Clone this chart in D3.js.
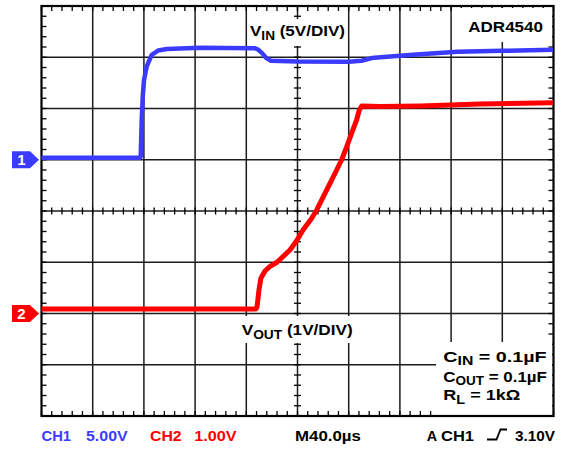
<!DOCTYPE html>
<html><head><meta charset="utf-8">
<script src="https://cdn.jsdelivr.net/npm/d3@7"></script>
<style>
body{margin:0;background:#fff}
svg{display:block}
text{font-family:"Liberation Sans",Arial,Helvetica,sans-serif;font-weight:bold}
</style>
</head><body>
<svg id="c" width="563" height="449"></svg>
<script>
// ---- data (time in µs, volts) ----
const ch1Time  = [0, 40, 76.9, 77.5, 78.3, 79.1, 80.1, 82.2, 86.1, 91.3, 97.8, 124, 166.8, 169.1, 172.3, 175.4, 179.3, 200, 240, 250, 258, 265, 290, 325, 360, 399.6];
const ch1Volts = [0.2, 0.2, 0.2, 0.3, 3.9, 6.2, 7.8, 9.1, 10.24, 10.66, 10.8, 10.93, 10.88, 10.75, 10.4, 9.95, 9.65, 9.58, 9.57, 9.66, 9.92, 10.0, 10.24, 10.54, 10.63, 10.73];
const ch2Time  = [0, 100, 167.6, 168.4, 169.9, 171.4, 174.6, 178.5, 184, 194.1, 199.6, 204.3, 211.1, 215, 220.2, 225.4, 230.6, 234.5, 238.4, 242.3, 246.2, 248.3, 250.2, 264.5, 295.7, 342.6, 399.6];
const ch2Volts = [0.09, 0.09, 0.09, 0.13, 0.46, 0.69, 0.83, 0.92, 1.0, 1.24, 1.43, 1.63, 1.86, 2.02, 2.28, 2.54, 2.8, 3.0, 3.25, 3.52, 3.78, 3.97, 4.05, 4.04, 4.05, 4.09, 4.11];
const timeTicks = d3.range(0, 401, 40);     // 40 µs / div
const divTicks  = d3.range(-4, 5, 1);       // vertical divisions
const ch1Range  = [-25, 15];                // 5 V/div, ground 1 div above centre
const ch2Range  = [-2, 6];                  // 1 V/div, ground 2 div below centre
const bottomTexts = ["CH1", "5.00V", "CH2", "1.00V", "M40.0µs", "A", "CH1", "3.10V"];
const noteTexts = [["C", "IN", " = 0.1µF"], ["C", "OUT", " = 0.1µF"], ["R", "L", " = 1kΩ"]];
const traceLabels = [["V", "IN", " (5V/DIV)"], ["V", "OUT", " (1V/DIV)"]];
const titleText = "ADR4540";

// ---- layout ----
const L = 41.5, R = 553.5, T = 6, B = 416;
const blue = "#3b3bff", red = "#ff0000";
const bottomLayout = [[41.5, 29.5, blue], [86, 41.7, blue], [150, 31.7, red], [194.3, 42.4, red],
  [295, 66, "#000"], [426.7, 10.5, "#000"], [441, 33, "#000"], [515, 40, "#000"]];
const noteLayout = [[443.3, 361.5, 103.4], [443.3, 381.5, 103.7], [443.3, 400, 77]];
const traceLayout = [[250, 36, 95], [241.7, 335, 111]];

const svg = d3.select("#c");
const x  = d3.scaleLinear([0, 400], [L, R]);
const yd = d3.scaleLinear([-4, 4], [B, T]);
const y1 = d3.scaleLinear(ch1Range, [B, T]);
const y2 = d3.scaleLinear(ch2Range, [B, T]);

// grid
const g = svg.append("g").attr("stroke", "#1c1c1c").attr("stroke-width", 1.5);
timeTicks.slice(1, -1).forEach(t => g.append("line").attr("x1", x(t)).attr("x2", x(t)).attr("y1", T).attr("y2", B));
divTicks.slice(1, -1).forEach(d => g.append("line").attr("x1", L).attr("x2", R).attr("y1", yd(d)).attr("y2", yd(d)));

// minor ticks
const mt = svg.append("g").attr("stroke", "#000").attr("stroke-width", 1.3);
d3.range(0, 400.01, 8).forEach(t => {
  const xx = x(t);
  mt.append("line").attr("x1", xx).attr("x2", xx).attr("y1", T).attr("y2", T + 5);
  mt.append("line").attr("x1", xx).attr("x2", xx).attr("y1", B).attr("y2", B - 5);
  mt.append("line").attr("x1", xx).attr("x2", xx).attr("y1", yd(0) - 3.5).attr("y2", yd(0) + 3.5);
});
d3.range(-4, 4.01, 0.2).forEach(d => {
  const yy = yd(d);
  mt.append("line").attr("x1", L).attr("x2", L + 5).attr("y1", yy).attr("y2", yy);
  mt.append("line").attr("x1", R).attr("x2", R - 5).attr("y1", yy).attr("y2", yy);
  mt.append("line").attr("x1", x(200) - 3.5).attr("x2", x(200) + 3.5).attr("y1", yy).attr("y2", yy);
});

// white label backgrounds
const boxes = [[250, 19, 96, 27], [456, 8, 96, 34], [238, 316, 118, 27], [436, 342, 116, 73]];
boxes.forEach(b => svg.append("rect").attr("x", b[0]).attr("y", b[1]).attr("width", b[2]).attr("height", b[3]).attr("fill", "#fff"));

// frame
svg.append("rect").attr("x", L).attr("y", T).attr("width", R - L).attr("height", B - T)
  .attr("fill", "none").attr("stroke", "#000").attr("stroke-width", 2.2);

// traces
const line1 = d3.line().x((d, i) => x(ch1Time[i])).y(d => y1(d));
const line2 = d3.line().x((d, i) => x(ch2Time[i])).y(d => y2(d));
svg.append("path").attr("d", line1(ch1Volts)).attr("fill", "none").attr("stroke", blue)
  .attr("stroke-width", 4.5).attr("stroke-linejoin", "round");
svg.append("path").attr("d", line2(ch2Volts)).attr("fill", "none").attr("stroke", red)
  .attr("stroke-width", 5).attr("stroke-linejoin", "round");

// channel ground markers
function marker(yy, col, label) {
  svg.append("path").attr("d", `M12,${yy - 8.5}H30L39,${yy}L30,${yy + 8.5}H12Z`).attr("fill", col);
  svg.append("text").attr("x", 21.5).attr("y", yy + 5.5).attr("text-anchor", "middle")
    .attr("fill", "#fff").attr("font-size", 15).text(label);
}
marker(y1(0), blue, "1");
marker(y2(0), red, "2");

// horizontally fitted text (scope font is wide)
function fit(t, xx, yy, w) {
  const bw = t.node().getComputedTextLength ? t.node().getBBox().width : w;
  const sx = w / bw;
  t.attr("x", 0).attr("y", 0).attr("transform", `translate(${xx},${yy}) scale(${sx},1)`);
}
function subLabel(xx, yy, w, parts, size) {
  const t = svg.append("text").attr("font-size", size).attr("fill", "#000");
  t.append("tspan").text(parts[0]);
  t.append("tspan").attr("font-size", size * 0.8).attr("dy", 3.5).text(parts[1]);
  t.append("tspan").attr("dy", -3.5).text(parts[2]);
  fit(t, xx, yy, w);
}
traceLabels.forEach((p, i) => subLabel(traceLayout[i][0], traceLayout[i][1], traceLayout[i][2], p, 15.5));
noteTexts.forEach((p, i) => subLabel(noteLayout[i][0], noteLayout[i][1], noteLayout[i][2], p, 15));
fit(svg.append("text").attr("font-size", 15.5).text(titleText), 468.3, 32, 74.7);

// bottom status row
bottomTexts.forEach((s, i) => {
  const b = bottomLayout[i];
  fit(svg.append("text").attr("font-size", 15).attr("fill", b[2]).text(s), b[0], 441, b[1]);
});
svg.append("path").attr("d", "M487,439.5H496.5L500.5,429.5H507").attr("fill", "none")
  .attr("stroke", "#000").attr("stroke-width", 1.8);
</script>
</body></html>
